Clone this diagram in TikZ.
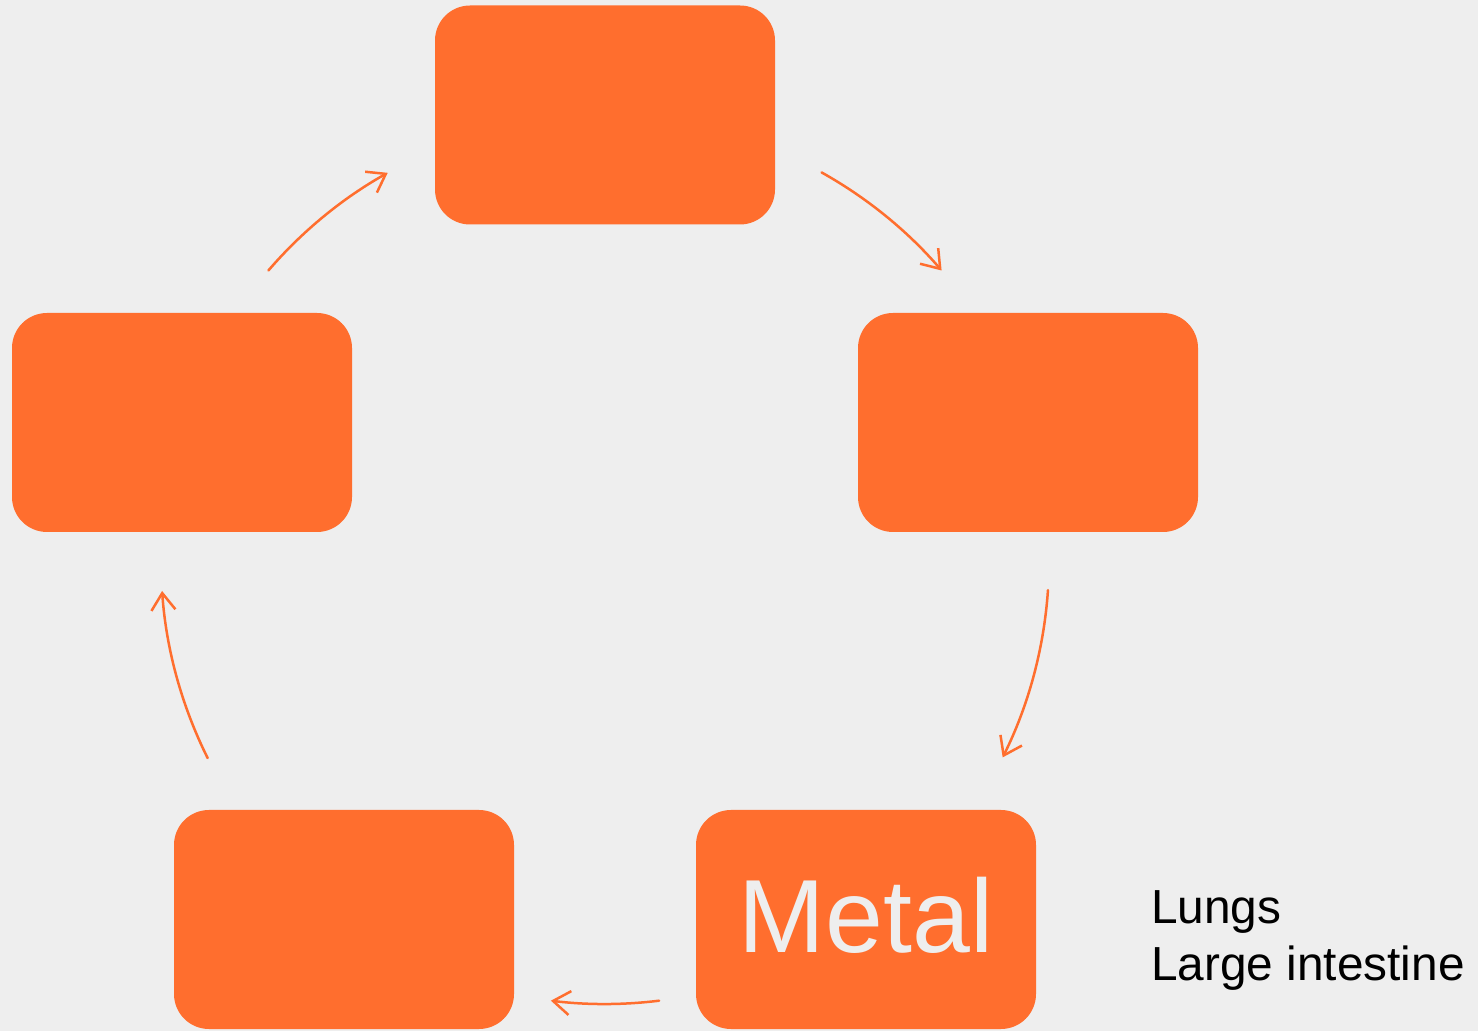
\documentclass[tikz,border=0pt]{standalone}
\usepackage{fontspec}
\setmainfont{Liberation Sans}
\usetikzlibrary{arrows.meta}
\definecolor{phase}{RGB}{255,110,46}
\definecolor{paper}{RGB}{238,238,238}
\tikzset{
  phasebox/.style={fill=phase, draw=none, rounded corners=35pt,
    minimum width=340pt, minimum height=219pt, inner sep=0pt,
    text=paper, font=\fontsize{104}{110}\selectfont},
  flow/.style={draw=phase, line width=2.5pt, line cap=round,
    -{Straight Barb[length=17pt,width=24pt,line width=2.5pt]}},
  organs/.style={anchor=base west, align=left, inner sep=0pt,
    font=\fontsize{47.8}{57.4}\selectfont, text=black}
}
\begin{document}
\begin{tikzpicture}[x=1pt,y=1pt]
  % canvas
  \fill[paper] (0,0) rectangle (1478,1031);
  \useasboundingbox (0,0) rectangle (1478,1031);

  % five phases around the cycle
  \node[phasebox] (top)   at (605,916) {};
  \node[phasebox] (right) at (1028,608.5) {};
  \node[phasebox, text depth=10pt] (metal) at (866,111.5) {Metal};
  \node[phasebox] (lower) at (344,111.5) {};
  \node[phasebox] (left)  at (182,608.5) {};

  % organs belonging to Metal
  \node[organs] (organs) at (1151,50.3) {Lungs\\Large intestine};

  % arrows lie on one circle around the middle
  \coordinate (c) at (605,471);
  \coordinate (a1) at ([shift={(139.3:444)}]c);
  \coordinate (a2) at ([shift={(60.8:444)}]c);
  \coordinate (a3) at ([shift={(-3.9:444)}]c);
  \coordinate (a4) at ([shift={(-83:444)}]c);
  \coordinate (a5) at ([shift={(206.5:444)}]c);

  \draw[flow] (a1) arc[start angle=139.3, end angle=119.3, radius=444];
  \draw[flow] (a2) arc[start angle=60.8, end angle=40.7, radius=444];
  \draw[flow] (a3) arc[start angle=-3.9, end angle=-26.4, radius=444];
  \draw[flow] (a4) arc[start angle=-83, end angle=-97, radius=444];
  \draw[flow] (a5) arc[start angle=206.5, end angle=184, radius=444];
\end{tikzpicture}
\end{document}
